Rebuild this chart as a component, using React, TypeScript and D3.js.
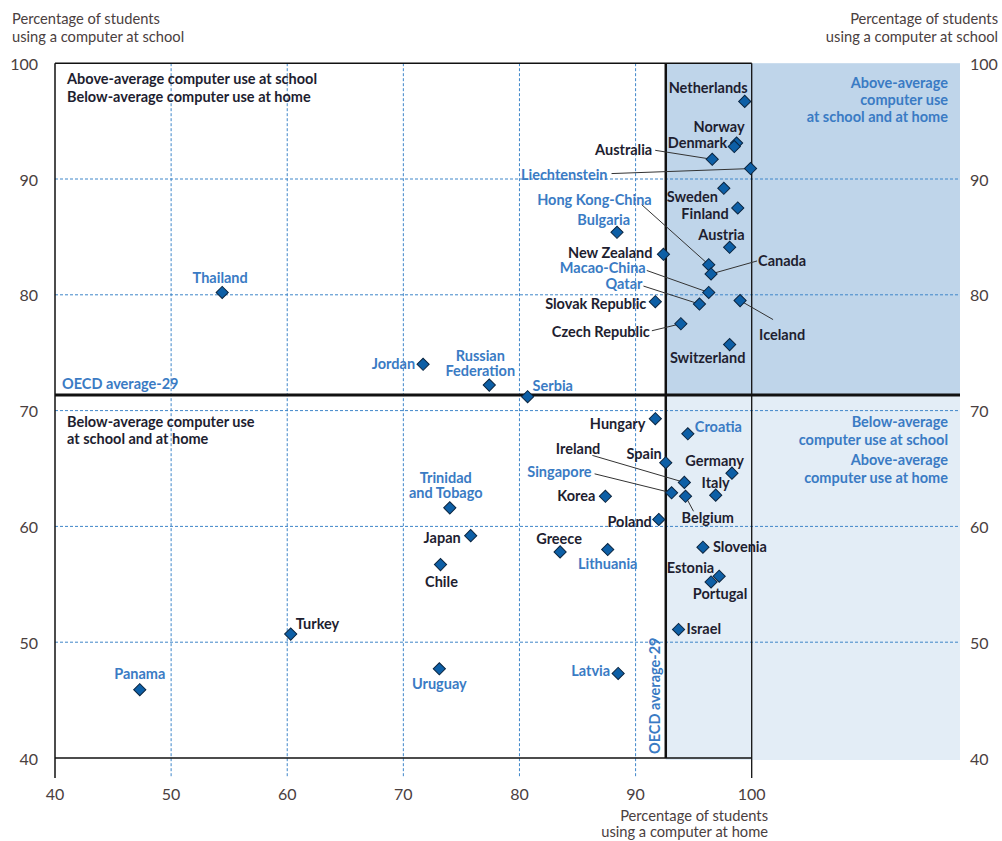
import React from "react";
import * as d3 from "d3";

// ---------- data ----------
const countries = [
  "Netherlands", "Norway", "Denmark", "Australia", "Liechtenstein", "Sweden", "Finland", "Austria",
  "Bulgaria", "New Zealand", "Hong Kong-China", "Canada", "Macao-China", "Qatar", "Iceland",
  "Slovak Republic", "Czech Republic", "Switzerland", "Serbia", "Thailand", "Jordan",
  "Russian Federation", "Hungary", "Croatia", "Spain", "Germany", "Ireland", "Singapore",
  "Belgium", "Italy", "Korea", "Poland", "Greece", "Lithuania", "Slovenia", "Estonia",
  "Portugal", "Israel", "Latvia", "Trinidad and Tobago", "Japan", "Chile", "Turkey",
  "Panama", "Uruguay",
];
const homeUse = [
  99.4, 98.7, 98.5, 96.6, 99.9, 97.6, 98.8, 98.1,
  88.4, 92.4, 96.3, 96.5, 96.3, 95.5, 99.0,
  91.7, 93.9, 98.1, 80.7, 54.4, 71.7,
  77.4, 91.7, 94.5, 92.6, 98.3, 94.2, 93.1,
  94.3, 96.9, 87.4, 92.0, 83.5, 87.6, 95.8, 97.2,
  96.5, 93.7, 88.5, 74.0, 75.8, 73.2, 60.3,
  47.3, 73.1,
];
const schoolUse = [
  96.7, 93.1, 92.8, 91.7, 90.9, 89.2, 87.5, 84.1,
  85.4, 83.5, 82.6, 81.8, 80.2, 79.2, 79.5,
  79.4, 77.5, 75.7, 71.2, 80.2, 74.0,
  72.2, 69.3, 68.0, 65.5, 64.6, 63.8, 62.9,
  62.6, 62.7, 62.6, 60.6, 57.8, 58.0, 58.2, 55.7,
  55.2, 51.1, 47.3, 61.6, 59.2, 56.7, 50.7,
  45.9, 47.7,
];
const partners = [
  "Liechtenstein", "Hong Kong-China", "Bulgaria", "Macao-China", "Qatar", "Thailand", "Jordan",
  "Russian Federation", "Serbia", "Croatia", "Singapore", "Lithuania", "Latvia",
  "Trinidad and Tobago", "Uruguay", "Panama",
];
const xTicks = [40, 50, 60, 70, 80, 90, 100];
const yTicks = [40, 50, 60, 70, 80, 90, 100];
const gridValues = [50, 60, 70, 80, 90];
const oecdHome = 92.6;
const oecdSchool = 71.35;

// ---------- label layout (offsets from the marker) ----------
type Lab = { dx: number; dy: number; a: "start" | "middle" | "end"; text?: string; lead?: [number, number] };
const labelLayout: Record<string, Lab> = {
  Netherlands: { dx: 3, dy: -14, a: "end" },
  Norway: { dx: 8, dy: -17, a: "end" },
  Denmark: { dx: -7, dy: -5, a: "end" },
  Australia: { dx: -60, dy: -10, a: "end", lead: [-57, -9] },
  Liechtenstein: { dx: -143, dy: 5, a: "end", lead: [-139, 5] },
  Sweden: { dx: -6, dy: 8, a: "end" },
  Finland: { dx: -9, dy: 5, a: "end" },
  Austria: { dx: 15, dy: -13, a: "end" },
  Bulgaria: { dx: 13, dy: -13, a: "end" },
  "New Zealand": { dx: -11, dy: -2, a: "end" },
  "Hong Kong-China": { dx: -57, dy: -66, a: "end", lead: [-67, -60] },
  Canada: { dx: 47, dy: -14, a: "start", lead: [46, -13] },
  "Macao-China": { dx: -63, dy: -25, a: "end", lead: [-62, -22] },
  Qatar: { dx: -57, dy: -21, a: "end", lead: [-56, -18] },
  Iceland: { dx: 19, dy: 33, a: "start", lead: [33, 19] },
  "Slovak Republic": { dx: -9, dy: 1, a: "end" },
  "Czech Republic": { dx: -31, dy: 7, a: "end", lead: [-29, 7] },
  Switzerland: { dx: -22, dy: 12, a: "middle" },
  Serbia: { dx: 5, dy: -12, a: "start" },
  Thailand: { dx: -2, dy: -15, a: "middle" },
  Jordan: { dx: -8, dy: -1, a: "end" },
  "Russian Federation": { dx: -9, dy: -30, a: "middle", text: "Russian\nFederation" },
  Hungary: { dx: -10, dy: 4, a: "end" },
  Croatia: { dx: 7, dy: -8, a: "start" },
  Spain: { dx: -4, dy: -10, a: "end" },
  Germany: { dx: 12, dy: -13, a: "end" },
  Ireland: { dx: -84, dy: -34, a: "end", lead: [-92, -27] },
  Singapore: { dx: -80, dy: -22, a: "end", lead: [-77, -19] },
  Belgium: { dx: -4, dy: 21, a: "start", lead: [8, 15] },
  Italy: { dx: 14, dy: -13, a: "end" },
  Korea: { dx: -10, dy: -1, a: "end" },
  Poland: { dx: -7, dy: 2, a: "end" },
  Greece: { dx: -1, dy: -14, a: "middle" },
  Lithuania: { dx: 0, dy: 13, a: "middle" },
  Slovenia: { dx: 10, dy: -1, a: "start" },
  Estonia: { dx: -5, dy: -9, a: "end" },
  Portugal: { dx: 9, dy: 11, a: "middle" },
  Israel: { dx: 8, dy: -1, a: "start" },
  Latvia: { dx: -8, dy: -3, a: "end" },
  "Trinidad and Tobago": { dx: -4, dy: -31, a: "middle", text: "Trinidad\nand Tobago" },
  Japan: { dx: -10, dy: 1, a: "end" },
  Chile: { dx: 1, dy: 16, a: "middle" },
  Turkey: { dx: 5, dy: -11, a: "start" },
  Panama: { dx: 0, dy: -17, a: "middle" },
  Uruguay: { dx: 0, dy: 14, a: "middle" },
};

// ---------- styles ----------
const FONT = "Lato, 'Open Sans', sans-serif";
const DARK = "#1e1e30";
const BLUE = "#3a7bc4";
const GRID = "#3f86c9";
const AXIS_TXT = "#4a4040";
const MARK_FILL = "#0d5fa6";
const MARK_STROKE = "#0b2540";
const LABEL_SIZE = 14.5;

const W = 1002;
const H = 841;
const plotRight = 960;

export default function App() {
  const x = d3.scaleLinear().domain([40, 100]).range([55, 751.7]);
  const y = d3.scaleLinear().domain([40, 100]).range([758, 63.2]);
  const diamond = d3.symbol(d3.symbolSquare, 74)();
  const top = y(100);
  const bottom = y(40);
  const left = x(40);
  const right100 = x(100);
  const ox = x(oecdHome);
  const oy = y(oecdSchool);

  const lines = (t: string) => t.split("\n");

  return (
    <svg width={W} height={H} style={{ position: "absolute", left: 0, top: 0, background: "#fff" }} fontFamily={FONT}>
      {/* shaded quadrants */}
      <rect x={ox} y={top} width={plotRight - ox} height={oy - top} fill="#bfd5ea" />
      <rect x={ox} y={oy} width={plotRight - ox} height={bottom + 2 - oy} fill="#e3edf6" />

      {/* grid */}
      {gridValues.map((v) => (
        <line key={"gx" + v} x1={x(v)} x2={x(v)} y1={top} y2={bottom + 20} stroke={GRID} strokeWidth={1} strokeDasharray="3,2" />
      ))}
      {gridValues.map((v) => (
        <line key={"gy" + v} x1={left} x2={plotRight} y1={y(v)} y2={y(v)} stroke={GRID} strokeWidth={1} strokeDasharray="3,2" />
      ))}

      {/* frame */}
      <line x1={left} x2={left} y1={top} y2={bottom + 20} stroke="#111" strokeWidth={1.5} />
      <line x1={left} x2={right100} y1={top} y2={top} stroke="#111" strokeWidth={1.5} />
      <line x1={left} x2={right100} y1={bottom} y2={bottom} stroke="#111" strokeWidth={1.5} />
      <line x1={right100} x2={right100} y1={top} y2={bottom + 20} stroke="#111" strokeWidth={1.3} />
      <line x1={ox} x2={ox} y1={top} y2={bottom} stroke="#111" strokeWidth={2.5} />
      <line x1={left} x2={plotRight} y1={oy} y2={oy} stroke="#111" strokeWidth={3} />

      {/* tick labels */}
      {yTicks.map((v) => (
        <text key={"yl" + v} x={38} y={y(v)} textAnchor="end" dominantBaseline="central" fontSize={16} fill={AXIS_TXT}>{v}</text>
      ))}
      {yTicks.map((v) => (
        <text key={"yr" + v} x={970} y={y(v)} textAnchor="start" dominantBaseline="central" fontSize={16} fill={AXIS_TXT}>{v}</text>
      ))}
      {xTicks.map((v) => (
        <text key={"xl" + v} x={x(v)} y={793} textAnchor="middle" dominantBaseline="central" fontSize={16} fill={AXIS_TXT}>{v}</text>
      ))}

      {/* axis titles */}
      <g fontSize={14.7} fill={AXIS_TXT} dominantBaseline="central">
        <text x={12} y={18}>Percentage of students</text>
        <text x={12} y={36}>using a computer at school</text>
        <text x={998} y={18} textAnchor="end">Percentage of students</text>
        <text x={998} y={36} textAnchor="end">using a computer at school</text>
        <text x={768} y={815} textAnchor="end">Percentage of students</text>
        <text x={768} y={831} textAnchor="end">using a computer at home</text>
      </g>

      {/* quadrant notes */}
      <g fontSize={LABEL_SIZE} fontWeight="bold" dominantBaseline="central">
        <text x={67} y={78} fill={DARK}>Above-average computer use at school</text>
        <text x={67} y={96} fill={DARK}>Below-average computer use at home</text>
        <text x={67} y={421} fill={DARK}>Below-average computer use</text>
        <text x={67} y={438} fill={DARK}>at school and at home</text>
        <text x={948} y={82} fill={BLUE} textAnchor="end">Above-average</text>
        <text x={948} y={99} fill={BLUE} textAnchor="end">computer use</text>
        <text x={948} y={116} fill={BLUE} textAnchor="end">at school and at home</text>
        <text x={948} y={421} fill={BLUE} textAnchor="end">Below-average</text>
        <text x={948} y={439} fill={BLUE} textAnchor="end">computer use at school</text>
        <text x={948} y={459} fill={BLUE} textAnchor="end">Above-average</text>
        <text x={948} y={477} fill={BLUE} textAnchor="end">computer use at home</text>
        <text x={62} y={383} fill={BLUE}>OECD average-29</text>
        <text transform={`translate(${ox - 11},${bottom - 4}) rotate(-90)`} fill={BLUE}>OECD average-29</text>
      </g>

      {/* leader lines */}
      {countries.map((c, i) => {
        const L = labelLayout[c];
        if (!L || !L.lead) return null;
        const px = x(homeUse[i]);
        const py = y(schoolUse[i]);
        return <line key={"ld" + c} x1={px + L.lead[0]} y1={py + L.lead[1]} x2={px} y2={py} stroke="#333" strokeWidth={1} />;
      })}

      {/* markers */}
      {countries.map((c, i) => (
        <path key={"m" + c} d={diamond} transform={`translate(${x(homeUse[i])},${y(schoolUse[i])}) rotate(45)`} fill={MARK_FILL} stroke={MARK_STROKE} strokeWidth={1} />
      ))}

      {/* labels */}
      <g fontSize={LABEL_SIZE} fontWeight="bold">
        {countries.map((c, i) => {
          const L = labelLayout[c];
          const px = x(homeUse[i]);
          const py = y(schoolUse[i]);
          const ls = lines(L.text ?? c);
          const col = partners.includes(c) ? BLUE : DARK;
          return (
            <text key={"t" + c} textAnchor={L.a} fill={col} dominantBaseline="central">
              {ls.map((s, k) => (
                <tspan key={k} x={px + L.dx} y={py + L.dy + k * 15}>{s}</tspan>
              ))}
            </text>
          );
        })}
      </g>
    </svg>
  );
}
